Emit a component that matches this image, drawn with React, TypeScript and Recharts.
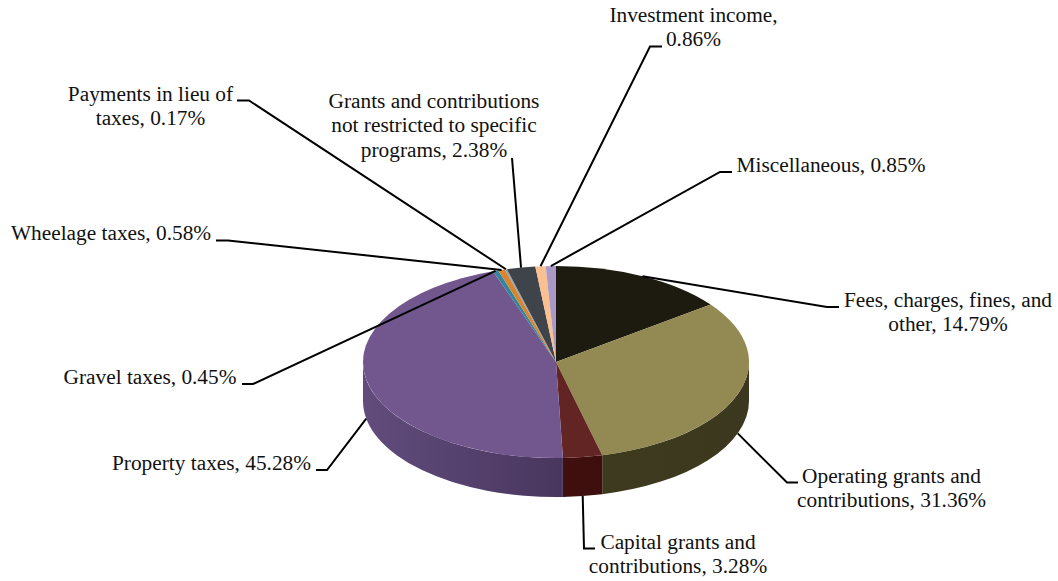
import React from "react";
import { PieChart, Pie } from "recharts";

const WIDTH = 1058;
const HEIGHT = 581;

const categories = [
  "Fees, charges, fines, and other",
  "Operating grants and contributions",
  "Capital grants and contributions",
  "Property taxes",
  "Gravel taxes",
  "Wheelage taxes",
  "Payments in lieu of taxes",
  "Grants and contributions not restricted to specific programs",
  "Investment income",
  "Miscellaneous",
];
const shares = [14.79, 31.36, 3.28, 45.28, 0.45, 0.58, 0.17, 2.38, 0.86, 0.85];
const labelTexts = [
  ["Fees, charges, fines, and", "other, 14.79%"],
  ["Operating grants and", "contributions, 31.36%"],
  ["Capital grants and", "contributions, 3.28%"],
  ["Property taxes, 45.28%"],
  ["Gravel taxes, 0.45%"],
  ["Wheelage taxes, 0.58%"],
  ["Payments in lieu of", "taxes, 0.17%"],
  ["Grants and contributions", "not restricted to specific", "programs, 2.38%"],
  ["Investment income,", "0.86%"],
  ["Miscellaneous, 0.85%"],
];

const topColors = ["#1d1a0f", "#938953", "#632523", "#72578f", "#31859c", "#d9842f", "#8ea3b8", "#3f444b", "#fac08f", "#a899c6"];
const wallStart = ["#14110a", "#3d3a1e", "#40100f", "#614c7c", "#215a6a", "#8f561d", "#5f6d7b", "#292c31", "#a67e5d", "#6f6483"];
const wallEnd = ["#14110a", "#3c381f", "#3e0e0e", "#49365e", "#215a6a", "#8f561d", "#5f6d7b", "#292c31", "#a67e5d", "#6f6483"];

// Layout of the annotations: text centre, first baseline, leader points from the label inward.
const textCentreX = [948, 891.5, 678, 211.5, 150, 111, 150.5, 434, 693.5, 831];
const firstBaseline = [306.5, 482.5, 549, 470, 383.5, 240, 101, 108, 22, 172];
const leaderEnds: number[][][] = [
  [[839, 307], [827, 307]],
  [[798, 482.5], [787, 482.5]],
  [[595, 548.5], [584, 548.5]],
  [[316, 470], [327, 470]],
  [[242, 384], [253, 384]],
  [[216, 240.5], [228, 240.5]],
  [[237, 100.5], [249, 100.5]],
  [[512, 158]],
  [[662, 46.5], [650, 46.5]],
  [[732, 172], [720, 172]],
];

const CX = 556;
const CY = 362;
const RX = 193;
const RY = 96;
const DEPTH = 39;
const LINE_HEIGHT = 24.3;

const rows = categories.map((name, i) => ({ name, value: shares[i], fill: topColors[i] }));

// theta is measured clockwise from 12 o'clock on the flattened ellipse.
const rim = (theta: number, dy = 0) => {
  const r = (theta * Math.PI) / 180;
  return [CX + RX * Math.sin(r), CY - RY * Math.cos(r) + dy];
};

function Slice3D(props: any) {
  const i = categories.indexOf(props.name);
  const t0 = 90 - props.startAngle;
  const t1 = 90 - props.endAngle;
  const a = rim(t0);
  const b = rim(t1);
  const large = t1 - t0 > 180 ? 1 : 0;
  const top = `M${CX},${CY} L${a[0]},${a[1]} A${RX},${RY} 0 ${large} 1 ${b[0]},${b[1]} Z`;
  const w0 = Math.max(t0, 90);
  const w1 = Math.min(t1, 270);
  let wall: React.ReactNode = null;
  if (w1 > w0) {
    const p = rim(w0);
    const q = rim(w1);
    const q2 = rim(w1, DEPTH);
    const p2 = rim(w0, DEPTH);
    const d = `M${p[0]},${p[1]} A${RX},${RY} 0 0 1 ${q[0]},${q[1]} L${q2[0]},${q2[1]} A${RX},${RY} 0 0 0 ${p2[0]},${p2[1]} Z`;
    wall = (
      <>
        <defs>
          <linearGradient id={`wall-${i}`} x1="0" y1="0" x2="1" y2="0">
            <stop offset="0" stopColor={wallStart[i]} />
            <stop offset="1" stopColor={wallEnd[i]} />
          </linearGradient>
        </defs>
        <path d={d} fill={`url(#wall-${i})`} stroke="none" />
      </>
    );
  }
  return (
    <g>
      {wall}
      <path d={top} fill={topColors[i]} stroke="none" />
    </g>
  );
}

function SliceLabel(props: any) {
  const i = categories.indexOf(props.name);
  const theta = 90 - props.midAngle;
  const norm = ((theta % 360) + 360) % 360;
  const front = norm > 90 && norm < 270;
  const start = rim(norm, front ? DEPTH : 0);
  const pts = [...leaderEnds[i], start].map((p) => p.join(",")).join(" ");
  return (
    <g>
      <polyline points={pts} fill="none" stroke="#000" strokeWidth={2} />
      <text
        x={textCentreX[i]}
        y={firstBaseline[i]}
        textAnchor="middle"
        fontFamily="'Liberation Serif', serif"
        fontSize={21.33}
        fill="#111"
      >
        {labelTexts[i].map((line, k) => (
          <tspan key={k} x={textCentreX[i]} y={firstBaseline[i] + k * LINE_HEIGHT}>
            {line}
          </tspan>
        ))}
      </text>
    </g>
  );
}

export default function App() {
  return (
    <div style={{ position: "absolute", left: 0, top: 0, width: WIDTH, height: HEIGHT, background: "#fff" }}>
      <PieChart width={WIDTH} height={HEIGHT} margin={{ top: 0, right: 0, bottom: 0, left: 0 }}>
        <Pie
          data={rows}
          dataKey="value"
          nameKey="name"
          cx={CX}
          cy={CY}
          innerRadius={0}
          outerRadius={RX}
          startAngle={90}
          endAngle={-270}
          stroke="none"
          isAnimationActive={false}
          shape={Slice3D}
          label={SliceLabel}
          labelLine={false}
        />
      </PieChart>
    </div>
  );
}
